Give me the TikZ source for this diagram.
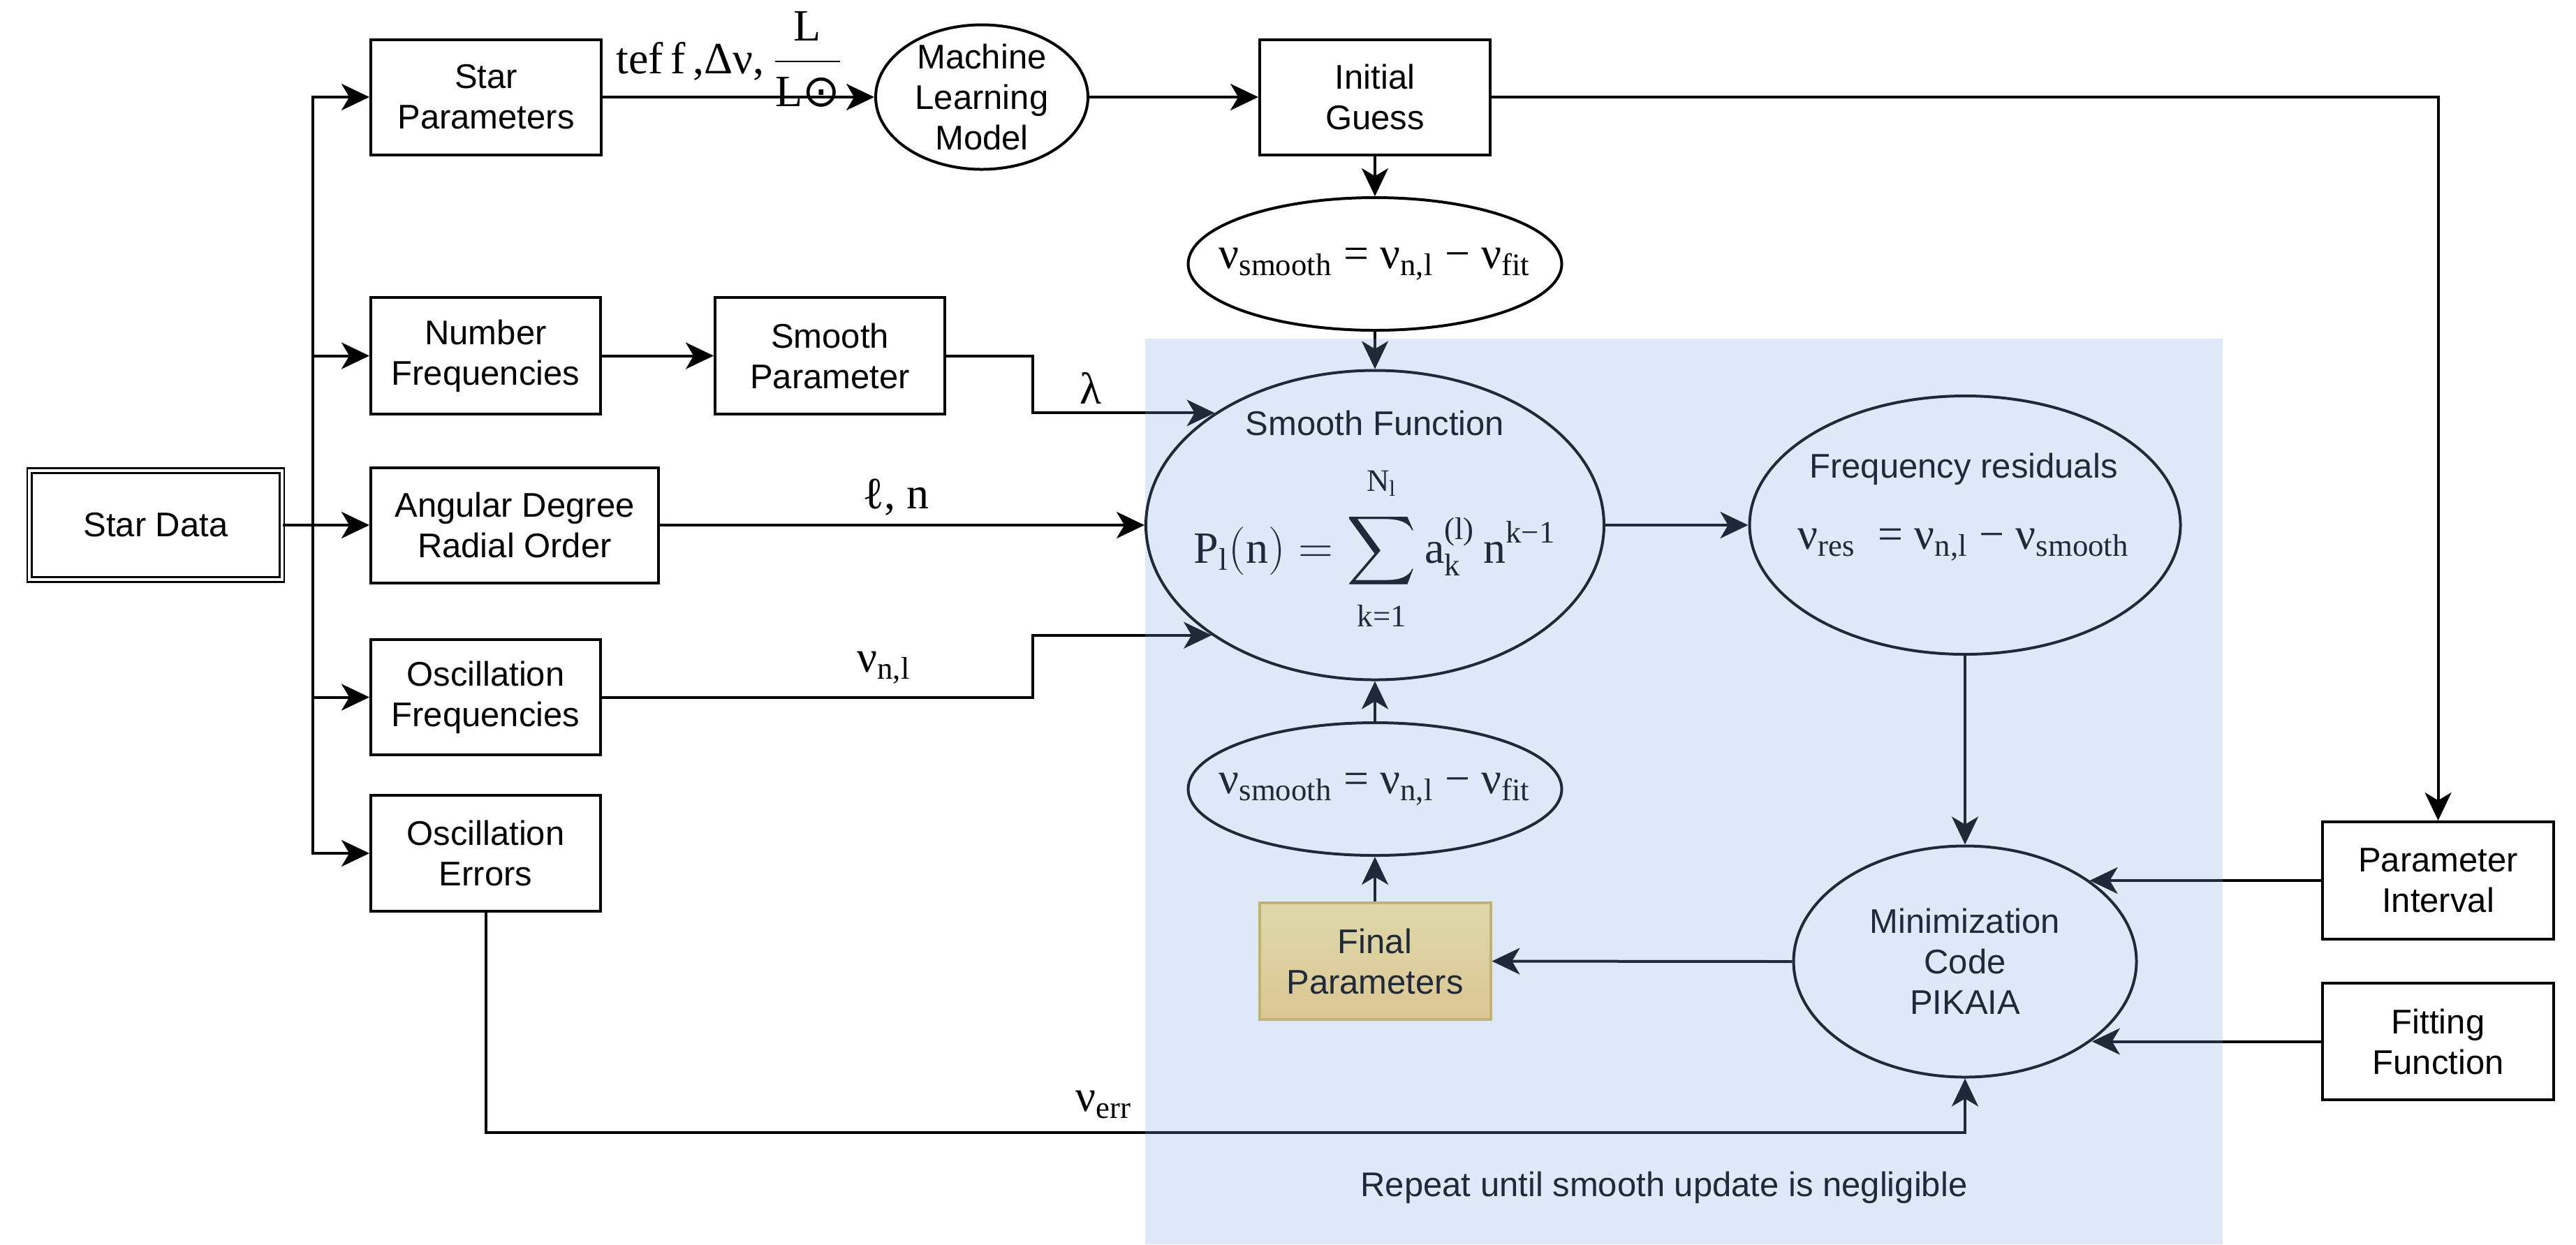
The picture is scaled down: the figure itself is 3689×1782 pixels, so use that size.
\documentclass[tikz,border=0pt]{standalone}
\usepackage{amsmath}
\usepackage{fontspec}
\setmainfont{Liberation Sans}
\newfontfamily\mf{Liberation Serif}
\newfontfamily\djs{DejaVu Sans}
\usetikzlibrary{shapes.geometric,arrows.meta}
\definecolor{ovl}{HTML}{7EA6E0}
\definecolor{fpA}{HTML}{FFEA9A}
\definecolor{fpB}{HTML}{FBD27A}
\definecolor{fpS}{HTML}{D6B656}
\newcommand{\nus}[1]{ν\textsubscript{#1}}
\begin{document}
\begin{tikzpicture}[x=0.25pt,y=-0.25pt,
  every node/.style={font=\fontsize{12.25}{14.5}\selectfont, align=center, inner sep=0pt},
  box/.style={draw, line width=1pt, rectangle, minimum width=82.5pt, minimum height=41.25pt},
  ell/.style={draw, line width=1pt, ellipse, inner sep=0pt},
  frm/.style={font=\mf\fontsize{16}{19}\selectfont},
  arr/.style={line width=1pt, -{Stealth[length=10pt,width=9.5pt,inset=2.8pt]}},
  ln/.style={line width=1pt}]
\useasboundingbox (0,0) rectangle (3689,1782);
\fill[white] (0,0) rectangle (3689,1782);

% nodes
\node[draw, rectangle, line width=0.7pt, double, double distance=1pt, minimum width=90.3pt, minimum height=39pt] (sd) at (223,752) {Star Data};
\node[box] (sp) at (696,139) {Star\\Parameters};
\node[ell, minimum width=76pt, minimum height=51.75pt, label={center:{Machine\\Learning\\Model}}] (ml) at (1406,139) {};
\node[box] (ig) at (1969,139) {Initial\\Guess};
\node[ell, minimum width=133.75pt, minimum height=47.5pt, label={[frm]center:{\nus{smooth} = \nus{n,l} − \nus{fit}}}] (vs1) at (1969,378) {};
\node[box, minimum width=82.25pt, minimum height=41.75pt] (nf) at (695.5,509.5) {Number\\Frequencies};
\node[box, minimum width=82.25pt, minimum height=41.75pt] (spar) at (1188.5,509.5) {Smooth\\Parameter};
\node[box, minimum width=103pt] (ad) at (737,752) {Angular Degree\\Radial Order};
\node[box, minimum width=82.25pt] (of) at (695.5,998.5) {Oscillation\\Frequencies};
\node[box, minimum width=82.25pt, minimum height=41.5pt] (oe) at (695.5,1222) {Oscillation\\Errors};

\node[ell, minimum width=164pt, minimum height=110.75pt] (sf) at (1969,752) {};
\node (sft) at (1969,606) {Smooth Function};
\node[frm] (sff) at (1969,786) {$\text{P}_{\text{l}}(\text{n}) = \displaystyle\sum_{\raisebox{-3pt}{$\scriptstyle\text{k=1}$}}^{\raisebox{4pt}{$\scriptstyle\text{N}_{\text{l}}$}}\text{a}_{\text{k}}^{\text{(l)}}\,\text{n}^{\text{k−1}}$};

\node[ell, minimum width=154.25pt, minimum height=92.5pt] (fr) at (2814,752) {};
\node (frt) at (2812,672) {Frequency residuals};
\node[frm] (frf) at (2812,780) {\nus{res}\ \ = \nus{n,l} − \nus{smooth}};

\node[ell, minimum width=133.75pt, minimum height=47.5pt, label={[frm]center:{\nus{smooth} = \nus{n,l} − \nus{fit}}}] (vs2) at (1969,1130) {};
\node[box, draw=fpS, top color=fpA, bottom color=fpB, minimum width=82.75pt, minimum height=41.75pt] (fp) at (1969,1376.5) {Final\\Parameters};
\node[ell, minimum width=122.75pt, minimum height=82.75pt, label={center:{Minimization\\Code\\PIKAIA}}] (mz) at (2814,1377) {};
\node[box, minimum width=82.75pt, minimum height=42pt] (pi) at (3491.5,1261) {Parameter\\Interval};
\node[box, minimum width=82.75pt, minimum height=41.75pt] (ff) at (3491.5,1491.5) {Fitting\\Function};

% connectors
\coordinate (bus) at (448,752);
\draw[ln] (sd.east) -- (bus);
\draw[arr] (bus) |- (sp.west);
\draw[arr] (bus) |- (nf.west);
\draw[arr] (bus) |- (ad.west);
\draw[arr] (bus) |- (of.west);
\draw[arr] (bus) |- (oe.west);
\draw[arr] (sp.east) -- (ml.west);
\draw[arr] (ml.east) -- (ig.west);
\draw[arr] (ig.east) -| (pi.north);
\draw[arr] (ig.south) -- (vs1.north);
\draw[arr] (vs1.south) -- (sf.north);
\draw[arr] (nf.east) -- (spar.west);
\draw[arr] (spar.east) -- ++(123.5,0) |- (sf.145.84);
\draw[arr] (ad.east) -- (sf.west);
\draw[arr] (of.east) -- ++(616.5,0) |- (sf.214.16);
\draw[arr] (sf.east) -- (fr.west);
\draw[arr] (fr.south) -- (mz.north);
\draw[arr] (pi.west) -- (pi.west -| mz.33.52);
\draw[arr] (ff.west) -- (ff.west -| mz.-32.87);
\draw[arr] (mz.west) -- (fp.east);
\draw[arr] (fp.north) -- (vs2.south);
\draw[arr] (vs2.north) -- (sf.south);
\draw[arr] (oe.south) -- ++(0,315) -| (mz.south);

% labels
\node[frm] (l1) at (1045,85) {tef\,f\,,Δν,\,$\dfrac{\text{L}}{\text{L{\djs ⊙}}}$};
\node[frm] (lam) at (1562,556) {λ};
\node[frm] (lln) at (1283,712) {ℓ, n};
\node[frm] (lnu) at (1266,956) {\nus{n,l}};
\node[frm] (lerr) at (1581,1582) {\nus{err}};
\node (rep) at (2383,1701) {Repeat until smooth update is negligible};

% overlay
\fill[ovl, fill opacity=0.25] (1640,485) rectangle (3183,1782);
\end{tikzpicture}
\end{document}
